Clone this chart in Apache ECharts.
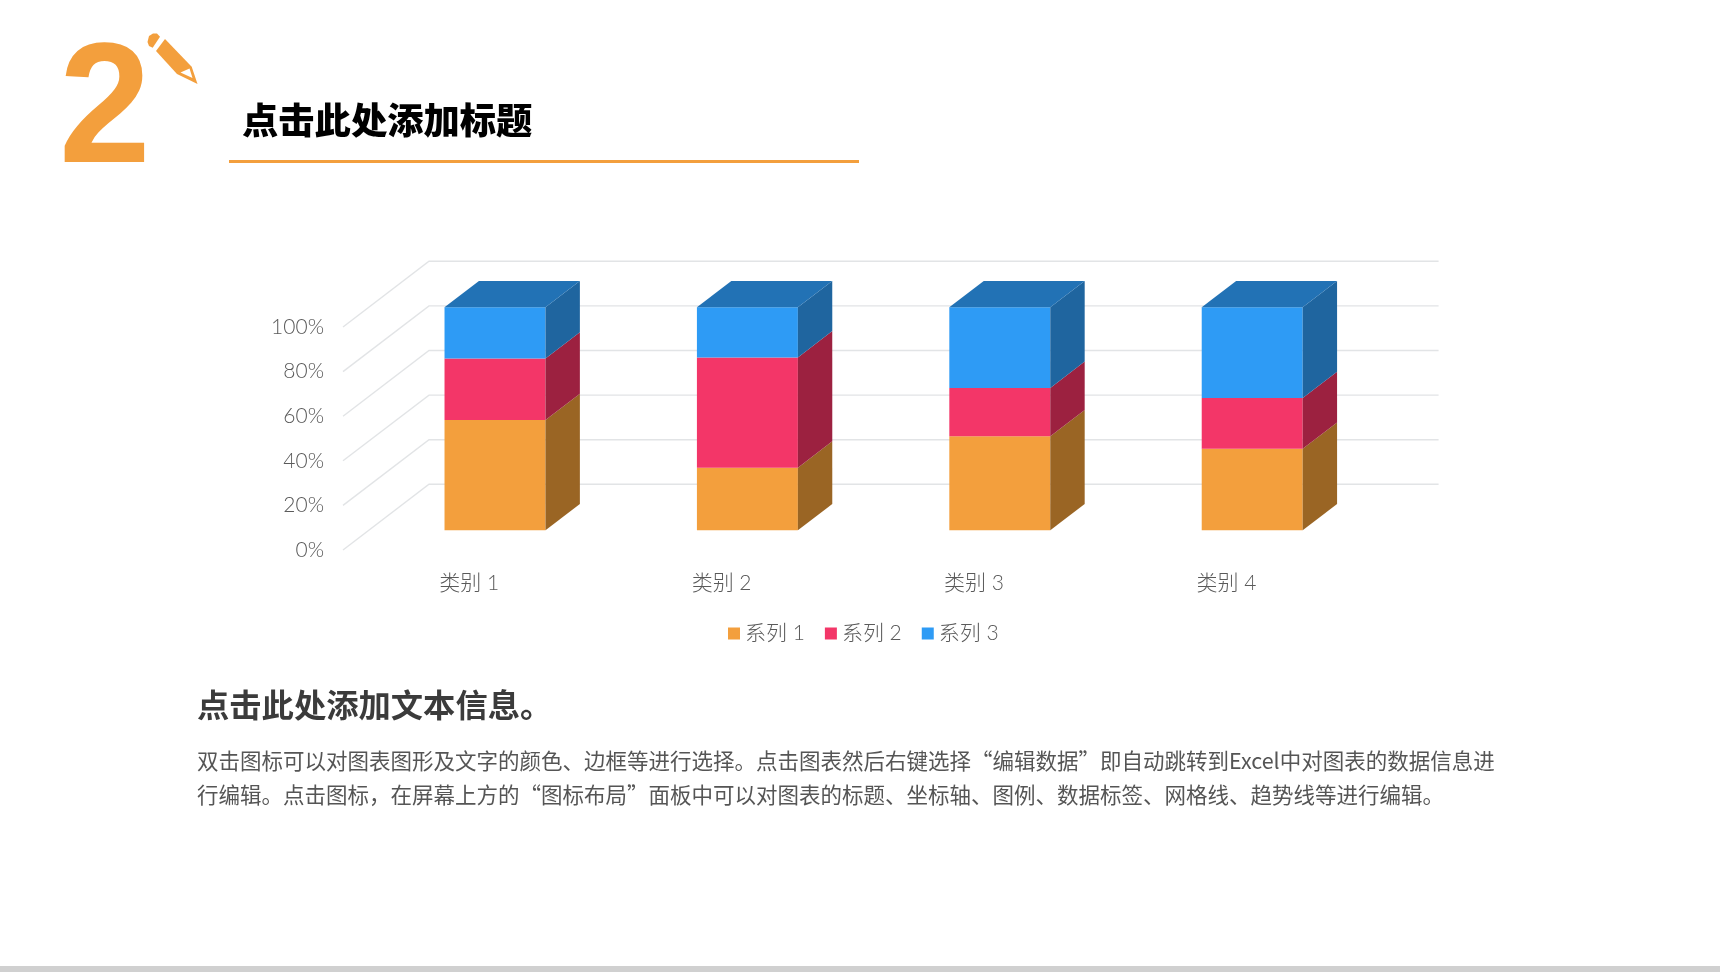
<!DOCTYPE html>
<html>
<head>
<meta charset="utf-8">
<title>点击此处添加标题</title>
<style>
  html, body { margin: 0; padding: 0; background: #fff; }
  #main { width: 1720px; height: 972px; }
</style>
<script src="https://cdn.jsdelivr.net/npm/echarts@6/dist/echarts.min.js"></script>
</head>
<body>
<div id="main"></div>
<script>
// chart data
const categories = ['类别 1', '类别 2', '类别 3', '类别 4']
const seriesNames = ['系列 1', '系列 2', '系列 3']
const series1 = [4.3, 2.5, 3.5, 4.5]
const series2 = [2.4, 4.4, 1.8, 2.8]
const series3 = [2, 2, 3, 5]
const yTicks = [0, 20, 40, 60, 80, 100]

const bodyLines = [
  '双击图标可以对图表图形及文字的颜色、边框等进行选择。点击图表然后右键选择“编辑数据”即自动跳转到Excel中对图表的数据信息进',
  '行编辑。点击图标，在屏幕上方的“图标布局”面板中可以对图表的标题、坐标轴、图例、数据标签、网格线、趋势线等进行编辑。'
]

const ORANGE = '#F39F3D'
const faces = [
  { front: ORANGE, side: '#9A6524' },
  { front: '#F33668', side: '#9C2140' },
  { front: '#2E9BF5', side: '#1F659F', top: '#2272B5' }
]
const labelFont = 'Lato, "Noto Sans CJK SC", sans-serif'
const labelColor = '#5A5A5A'

// floor depth of the fake 3d box, the bars stand between 30% and 70% of it
const DEPTH_X = 86
const DEPTH_Y = 65.7
const BAR_NEAR = 0.3
const BAR_FAR = 0.7
const BAR_WIDTH = 0.4

function poly(points, color) {
  return { type: 'polygon', shape: { points: points }, style: { fill: color } }
}

function renderWall(params, api) {
  const p = api.coord([api.value(0), api.value(1)])
  const cs = params.coordSys
  return {
    type: 'polyline',
    silent: true,
    shape: { points: [
      [cs.x, p[1]],
      [cs.x + DEPTH_X, p[1] - DEPTH_Y],
      [cs.x + cs.width + DEPTH_X, p[1] - DEPTH_Y]
    ] },
    style: { stroke: '#E2E4E6', lineWidth: 1.4, fill: 'none' }
  }
}

function renderBox(face) {
  return function (params, api) {
    const low = api.coord([api.value(0), api.value(1)])
    const high = api.coord([api.value(0), api.value(2)])
    const w = api.size([1, 0])[0] * BAR_WIDTH
    const nx = DEPTH_X * BAR_NEAR, ny = DEPTH_Y * BAR_NEAR
    const fx = DEPTH_X * BAR_FAR, fy = DEPTH_Y * BAR_FAR
    const l = low[0] - w / 2, r = low[0] + w / 2
    const children = [
      poly([[l + nx, low[1] - ny], [r + nx, low[1] - ny], [r + nx, high[1] - ny], [l + nx, high[1] - ny]], face.front),
      poly([[r + nx, low[1] - ny], [r + fx, low[1] - fy], [r + fx, high[1] - fy], [r + nx, high[1] - ny]], face.side)
    ]
    if (face.top) {
      children.push(poly([[l + nx, high[1] - ny], [r + nx, high[1] - ny], [r + fx, high[1] - fy], [l + fx, high[1] - fy]], face.top))
    }
    return { type: 'group', children: children }
  }
}

// 100% stacked: every category adds up to 100
const stacks = [series1, series2, series3]
function stackedRows(index) {
  return categories.map((c, i) => {
    const total = stacks.reduce((s, a) => s + a[i], 0)
    const before = stacks.slice(0, index).reduce((s, a) => s + a[i], 0)
    return [i, before / total * 100, (before + stacks[index][i]) / total * 100]
  })
}

const option = {
  backgroundColor: '#fff',
  animation: false,
  grid: { left: 343, top: 327, width: 1009.6, height: 223 },
  xAxis: {
    type: 'category',
    data: categories,
    axisLine: { show: false },
    axisTick: { show: false },
    axisLabel: { margin: 23, fontSize: 21, color: labelColor, fontFamily: labelFont, fontWeight: 300 }
  },
  yAxis: {
    type: 'value',
    min: 0,
    max: 100,
    interval: 20,
    axisLine: { show: false },
    axisTick: { show: false },
    splitLine: { show: false },
    axisLabel: {
      margin: 19,
      fontSize: 21,
      color: labelColor,
      fontFamily: labelFont,
      fontWeight: 300,
      formatter: '{value}%'
    }
  },
  legend: {
    data: seriesNames,
    left: 728,
    top: 623,
    padding: 0,
    itemWidth: 12,
    itemHeight: 12,
    itemGap: 20,
    icon: 'rect',
    selectedMode: false,
    textStyle: { fontSize: 21, color: labelColor, fontFamily: labelFont, fontWeight: 300 }
  },
  series: [
    {
      type: 'custom',
      name: 'wall',
      silent: true,
      z: 1,
      renderItem: renderWall,
      encode: { x: 0, y: 1 },
      data: yTicks.map(t => [0, t])
    }
  ].concat(seriesNames.map((name, k) => ({
    type: 'custom',
    name: name,
    z: 2,
    itemStyle: { color: faces[k].front },
    renderItem: renderBox(faces[k]),
    encode: { x: 0, y: [1, 2] },
    data: stackedRows(k)
  }))),
  graphic: [
    // big number and pencil
    { type: 'text', x: 59, y: 30, scaleX: 0.97, style: { text: '2', font: 'bold 170px "Liberation Sans"', fill: ORANGE } },
    { type: 'polygon', shape: { points: [[165, 39], [156, 51], [177, 74], [197.5, 84], [191.7, 66.7]] }, style: { fill: ORANGE } },
    { type: 'polygon', shape: { points: [[180.5, 72.5], [189.5, 68.5], [192.5, 78]] }, style: { fill: '#fff' } },
    { type: 'polygon', shape: { points: [[147.5, 42], [149, 36], [153, 33.5], [157, 33.5], [160, 36.7], [152.7, 47.7], [149, 46]] }, style: { fill: ORANGE } },
    // title
    { type: 'text', x: 242, y: 102, style: { text: '点击此处添加标题', font: '900 36.3px "Noto Sans CJK SC"', fill: '#000' } },
    { type: 'rect', shape: { x: 229, y: 160, width: 630, height: 3 }, style: { fill: ORANGE } },
    // text block
    { type: 'text', x: 197, y: 689, style: { text: '点击此处添加文本信息。', font: 'bold 32.3px "Noto Sans CJK SC"', fill: '#3B3B3B' } },
    { type: 'text', x: 197, y: 750, style: { text: bodyLines[0], font: '21.5px "Noto Sans CJK SC"', fill: '#555' } },
    { type: 'text', x: 197, y: 784, style: { text: bodyLines[1], font: '21.5px "Noto Sans CJK SC"', fill: '#555' } },
    // bottom strip
    { type: 'rect', shape: { x: 0, y: 966, width: 1720, height: 6 }, style: { fill: '#D0D0D0' } }
  ]
}

const chart = echarts.init(document.getElementById('main'))
chart.setOption(option)
</script>
</body>
</html>
